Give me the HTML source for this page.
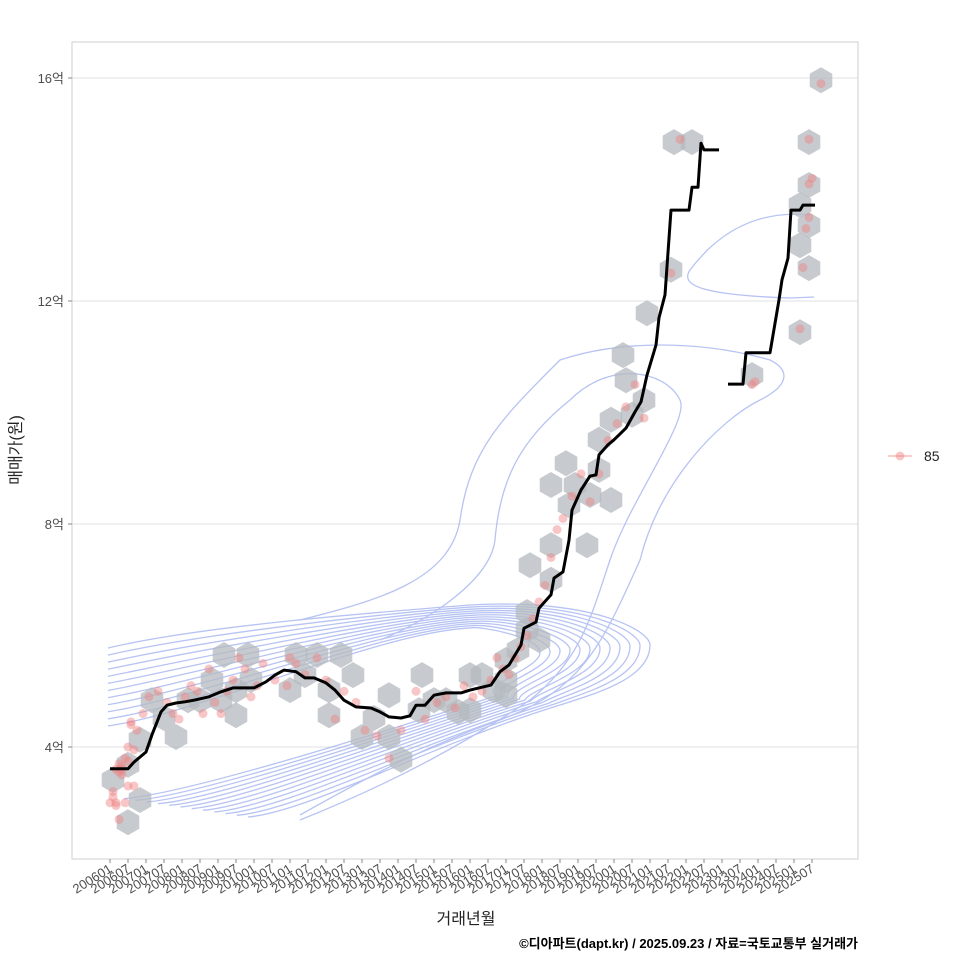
<!DOCTYPE html>
<html><head><meta charset="utf-8">
<style>
html,body{margin:0;padding:0;background:#fff;}
svg{display:block;font-family:"Liberation Sans","Noto Sans CJK KR",sans-serif;}
</style></head>
<body>
<svg id="chart" width="960" height="960" viewBox="0 0 960 960" xmlns="http://www.w3.org/2000/svg">
<rect x="0" y="0" width="960" height="960" fill="#fff"/>
<g id="grid"></g>
<g id="contours" fill="none" stroke="#9fb0f0" stroke-width="1.3" opacity="0.75">
</g>
<g id="hexes"></g>
<g id="points"></g>
<g id="lines"></g>
<rect x="72" y="42" width="786" height="817" fill="none" stroke="#cfcfcf" stroke-width="1"/>
<g id="yaxis"></g>
<g id="xaxis"></g>
<text transform="translate(21,450) rotate(-90)" text-anchor="middle" font-size="16" fill="#222">매매가(원)</text>
<text x="466" y="924" text-anchor="middle" font-size="16" fill="#222">거래년월</text>
<text x="858" y="948" text-anchor="end" font-size="13" font-weight="bold" fill="#000">©디아파트(dapt.kr) / 2025.09.23 / 자료=국토교통부 실거래가</text>
<g>
<line x1="888" y1="456" x2="912" y2="456" stroke="#f4a0a0" stroke-width="1.5" opacity="0.7"/>
<circle cx="900" cy="456" r="4.5" fill="#f08080" opacity="0.45"/>
<text x="924" y="461" font-size="14" fill="#222">85</text>
</g>
</svg>
<script>
// months since 2006-01 and prices in 억
const lineMonths1=[0,6,8,12,14,17,19,22,25,28,33,37,41,48,52,55,58,62,65,68,72,75,78,82,87,90,93,97,100,102,105,108,112,117,120,123,127,130,133,137,138,142,143,147,148,151,153,154,157,160,162,163,166,168,172,175,177,179,182,183,185,187,193,194,196,197,198,203];
const lineValues1=[3.61,3.61,3.73,3.91,4.22,4.63,4.75,4.79,4.81,4.84,4.90,4.99,5.06,5.06,5.17,5.29,5.38,5.35,5.24,5.24,5.15,5.02,4.84,4.72,4.70,4.63,4.54,4.52,4.56,4.75,4.75,4.93,4.97,4.97,5.02,5.06,5.11,5.35,5.47,5.83,6.13,6.24,6.49,6.73,7.03,7.14,7.71,8.25,8.61,8.86,8.88,9.24,9.42,9.51,9.72,10.01,10.19,10.67,11.21,11.70,12.11,13.63,13.63,14.04,14.04,14.83,14.71,14.71];
const lineMonths2=[206,211,212,220,223,224,226,227,230,231,235];
const lineValues2=[10.51,10.51,11.07,11.07,12.02,12.38,12.77,13.63,13.63,13.72,13.72];
const hexMonths=[1,6,10,6,10,14,18,22,26,30,34,38,37,42,46,42,47,62,60,69,65,73,73,77,81,84,88,93,93,97,104,103,108,112,116,120,120,124,128,132,132,132,136,139,139,140,143,147,147,147,152,153,155,159,160,163,167,167,163,171,172,178,174,179,187,188,194,214,230,233,233,233,230,233,237,230];
const hexValues=[3.41,3.68,3.05,2.65,4.13,4.84,4.52,4.18,4.84,4.84,5.20,5.65,4.84,5.02,5.65,4.57,5.20,5.65,5.02,5.65,5.29,5.02,4.57,5.65,5.29,4.18,4.52,4.18,4.93,3.77,5.29,4.66,4.84,4.84,4.63,5.29,4.66,5.29,5.02,5.20,5.56,4.93,5.74,6.10,6.42,7.26,5.92,7.62,7.00,8.70,9.09,8.34,8.70,7.62,8.52,9.51,9.87,8.43,8.97,11.03,10.58,10.22,9.96,11.78,12.56,14.85,14.85,10.67,11.44,12.59,13.36,14.08,13.00,14.85,15.96,13.72];
const ptMonths=[0,1,2,3,4,5,6,7,8,2,4,6,1,3,5,7,3,6,2,8,4,9,11,13,16,19,21,23,25,27,29,31,33,35,37,39,41,43,45,47,49,51,55,59,60,62,65,69,72,75,78,82,85,89,93,97,102,105,109,112,115,118,121,124,127,129,131,133,135,137,139,141,143,145,147,149,151,154,157,160,163,166,169,172,175,178,187,190,214,215,230,231,232,233,233,233,234,237];
const ptValues=[3.0,3.2,3.6,3.7,3.5,3.0,4.0,4.4,3.3,2.95,3.65,3.75,3.1,3.55,3.8,4.45,2.7,3.3,3.0,3.95,3.6,4.3,4.6,4.9,5.0,4.8,4.6,4.5,4.9,5.1,5.0,4.6,5.4,4.8,4.6,5.0,5.2,5.6,5.4,4.9,5.1,5.5,5.2,5.1,5.6,5.5,5.3,5.6,5.2,4.5,5.0,4.8,4.3,4.2,3.8,4.3,5.0,4.5,4.8,4.9,4.7,5.1,4.9,5.0,5.2,5.6,5.4,5.3,5.6,5.8,6.0,6.3,6.6,6.9,7.4,7.9,8.1,8.5,8.9,8.4,8.9,9.5,9.8,10.1,10.5,9.9,12.5,14.9,10.5,10.55,11.5,12.6,13.3,14.1,14.9,13.5,14.2,15.9];
const yTicks=[4,8,12,16];
const yTickLabels=["4억","8억","12억","16억"];
const xTickLabels=[];
for(let y=2006;y<=2025;y++){xTickLabels.push(y+"01");xTickLabels.push(y+"07");}

const NS="http://www.w3.org/2000/svg";
function X(m){return 110+3*m;}
function Y(v){return 747-(v-4)*55.75;}
function mk(tag,attrs,parent){const e=document.createElementNS(NS,tag);for(const k in attrs)e.setAttribute(k,attrs[k]);parent.appendChild(e);return e;}
const grid=document.getElementById('grid');
const yaxis=document.getElementById('yaxis');
yTicks.forEach((v,i)=>{
  const g=mk('line',{x1:72,x2:858,y1:Y(v),y2:Y(v),stroke:'#e0e0e6','stroke-width':1},grid);
  
  
  const t=mk('line',{x1:68,x2:72,y1:Y(v),y2:Y(v),stroke:'#888'},yaxis);
  
  
  const l=mk('text',{x:64,y:Y(v)+5,'text-anchor':'end','font-size':13,fill:'#4d4d4d'},yaxis);
  l.textContent=yTickLabels[i];
  
  
});
const xaxis=document.getElementById('xaxis');
xTickLabels.forEach((s,i)=>{
  const x=X(i*6);
  const t=mk('line',{x1:x,x2:x,y1:859,y2:863,stroke:'#888'},xaxis);
  
  
  const l=mk('text',{transform:`translate(${x+3},${871}) rotate(-32)`,'text-anchor':'end','font-size':13,fill:'#4d4d4d'},xaxis);
  l.textContent=s;
  
  
});
// contours (density estimate outlines)
const cg=document.getElementById('contours');
for(let k=0;k<12;k++){
  const s=k/12;
  const top=648+s*85;
  const rx=650-s*120, cy=640+s*8;
  const ex=248-s*135, ey=817-s*20;
  const d=`M108,${top} C200,${top-22+s*10} 380,${612+s*22} 470,${605+s*25} C${rx-60},${598+s*30} ${rx},${cy-10} ${rx},${cy+5} C${rx},${cy+40-s*20} ${rx-60},${cy+55-s*20} ${560-s*70},${705-s*10} C${430-s*80},${745-s*5} ${ex+60},${ey-5} ${ex},${ey}`;
  const p=mk('path',{d:d},cg);
  
  
}
[
"M300,815 C380,770 430,745 500,720 C580,690 600,650 640,560 C660,480 720,420 760,400 C790,385 790,370 770,360 C700,340 620,340 560,360 C500,420 470,450 460,520 C450,580 380,600 300,620",
"M300,820 C400,780 470,740 530,700 C580,660 590,620 610,560 C630,500 690,420 680,400 C665,370 610,360 570,400 C520,440 500,480 495,540 C490,580 430,620 380,640",
"M690,270 C720,230 760,210 810,215 M690,270 C680,285 700,295 790,298 L814,297",
].forEach(d=>{
  const p=mk('path',{d:d},cg);
  
  
});
// hexagons
const hg=document.getElementById('hexes');
function hexPath(cx,cy,r){let d='';for(let i=0;i<6;i++){const a=Math.PI/180*(60*i-90);d+=(i?'L':'M')+(cx+r*Math.cos(a)).toFixed(1)+','+(cy+r*Math.sin(a)).toFixed(1);}return d+'Z';}
hexMonths.forEach((m,i)=>{
  const h=mk('path',{d:hexPath(X(m),Y(hexValues[i]),13),fill:'#b4babf',opacity:0.75},hg);
  
  
});
const pg=document.getElementById('points');
ptMonths.forEach((m,i)=>{
  const c=mk('circle',{cx:X(m),cy:Y(ptValues[i]),r:4.5,fill:'#f08080',opacity:0.45},pg);
  
  
});
const lg=document.getElementById('lines');
function drawLine(ms,vs,name){
  const d=ms.map((m,i)=>(i?'L':'M')+X(m)+','+Y(vs[i]).toFixed(1)).join('');
  const p=mk('path',{d:d,fill:'none',stroke:'#000','stroke-width':3,'stroke-linejoin':'round'},lg);
  
  
}
drawLine(lineMonths1,lineValues1,'median-price-line');
drawLine(lineMonths2,lineValues2,'median-price-line-recent');
</script>
</body></html>
